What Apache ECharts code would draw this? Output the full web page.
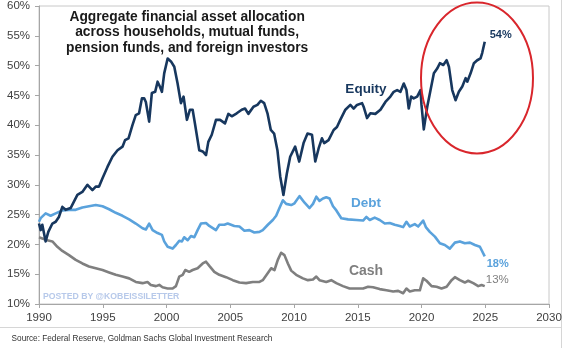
<!DOCTYPE html>
<html>
<head>
<meta charset="utf-8">
<script src="https://cdn.jsdelivr.net/npm/echarts@6/dist/echarts.min.js"></script>
<style>
  html, body { margin: 0; padding: 0; background: #fff; }
  #chart { width: 568px; height: 348px; }
</style>
</head>
<body>
<div id="chart"></div>
<script>
// Share of aggregate financial assets, [year, percent]
const equity = [
  [1990.0, 23.5], [1990.13, 22.4], [1990.26, 23.3], [1990.52, 20.5], [1990.73, 22.1],
  [1991.05, 23.5], [1991.31, 23.8], [1991.56, 24.6], [1991.83, 26.3], [1992.09, 25.8],
  [1992.48, 26.1], [1993.01, 28.3], [1993.40, 28.8], [1993.80, 30.0], [1994.19, 29.1],
  [1994.45, 29.7], [1994.71, 29.7], [1994.98, 31.1], [1995.37, 33.0], [1995.76, 34.7],
  [1996.16, 35.8], [1996.55, 36.4], [1996.75, 37.5], [1997.02, 37.8], [1997.33, 40.0],
  [1997.59, 41.7], [1997.85, 42.0], [1998.07, 44.5], [1998.25, 44.5], [1998.38, 43.9],
  [1998.64, 40.6], [1998.85, 45.4], [1999.11, 45.6], [1999.30, 47.3], [1999.48, 46.5],
  [1999.64, 45.6], [1999.82, 48.7], [2000.09, 51.2], [2000.35, 50.7], [2000.61, 49.8],
  [2000.87, 47.0], [2001.13, 43.7], [2001.34, 44.8], [2001.60, 40.9], [2001.84, 42.6],
  [2002.05, 42.6], [2002.23, 40.3], [2002.57, 35.8], [2002.84, 35.6], [2003.10, 35.0],
  [2003.28, 37.2], [2003.55, 38.4], [2003.88, 40.9], [2004.20, 40.9], [2004.59, 40.3],
  [2004.85, 41.9], [2005.12, 41.5], [2005.51, 42.0], [2005.90, 42.6], [2006.16, 42.8],
  [2006.42, 41.9], [2006.82, 43.1], [2007.13, 43.4], [2007.40, 44.1], [2007.66, 43.7],
  [2007.92, 42.0], [2008.18, 39.2], [2008.44, 38.6], [2008.70, 35.8], [2008.92, 31.4],
  [2009.17, 28.3], [2009.44, 31.9], [2009.70, 34.7], [2010.09, 36.4], [2010.41, 33.9],
  [2010.75, 37.0], [2011.06, 38.6], [2011.41, 38.4], [2011.67, 33.9], [2011.93, 36.1],
  [2012.19, 37.8], [2012.37, 37.0], [2012.71, 37.5], [2012.85, 37.5], [2013.11, 39.2],
  [2013.37, 39.7], [2013.63, 40.9], [2014.03, 42.6], [2014.42, 43.4], [2014.68, 42.8],
  [2014.94, 43.4], [2015.34, 43.7], [2015.46, 43.1], [2015.73, 41.2], [2015.99, 42.0],
  [2016.38, 41.9], [2016.78, 42.6], [2017.17, 43.9], [2017.56, 44.8], [2017.82, 45.6],
  [2018.09, 45.9], [2018.35, 45.6], [2018.61, 47.0], [2018.82, 45.9], [2019.00, 42.8],
  [2019.19, 44.8], [2019.39, 44.5], [2019.66, 44.8], [2019.92, 45.9], [2020.00, 43.4],
  [2020.18, 39.3], [2020.45, 43.1], [2020.71, 45.9], [2020.97, 48.7], [2021.23, 49.5],
  [2021.44, 50.4], [2021.71, 50.1], [2021.97, 50.9], [2022.15, 49.8], [2022.41, 45.9],
  [2022.67, 44.2], [2022.93, 45.6], [2023.20, 46.5], [2023.46, 47.9], [2023.59, 47.3],
  [2023.85, 48.7], [2024.11, 50.4], [2024.37, 50.9], [2024.63, 51.2], [2024.76, 52.1],
  [2024.96, 54.0]
];

const debt = [
  [1990.0, 23.8], [1990.13, 24.4], [1990.52, 25.2], [1990.91, 24.8], [1991.31, 25.2],
  [1991.83, 25.7], [1992.35, 25.8], [1992.88, 25.8], [1993.40, 26.2], [1993.92, 26.4],
  [1994.45, 26.6], [1994.98, 26.4], [1995.50, 25.9], [1996.02, 25.3], [1996.55, 24.8],
  [1997.07, 24.2], [1997.59, 23.5], [1998.12, 22.7], [1998.38, 22.5], [1998.64, 23.5],
  [1998.91, 22.4], [1999.30, 21.9], [1999.64, 21.6], [1999.82, 20.5], [2000.09, 19.6],
  [2000.48, 19.3], [2000.74, 19.9], [2001.00, 20.6], [2001.21, 20.5], [2001.39, 21.2],
  [2001.66, 20.7], [2001.92, 21.4], [2002.18, 21.2], [2002.44, 22.4], [2002.70, 23.5],
  [2003.10, 23.6], [2003.36, 23.1], [2003.88, 22.4], [2004.14, 23.3], [2004.54, 23.3],
  [2004.80, 23.5], [2005.32, 23.1], [2005.72, 23.0], [2006.11, 22.3], [2006.50, 22.4],
  [2006.89, 22.0], [2007.29, 22.1], [2007.55, 22.4], [2007.95, 23.3], [2008.34, 24.1],
  [2008.60, 24.8], [2008.86, 26.1], [2009.13, 27.4], [2009.39, 26.8], [2009.78, 26.6],
  [2010.04, 26.9], [2010.43, 28.1], [2010.83, 27.0], [2011.22, 26.1], [2011.49, 26.8],
  [2011.75, 28.0], [2012.00, 27.3], [2012.27, 27.7], [2012.53, 27.9], [2012.79, 27.7],
  [2013.06, 26.4], [2013.32, 25.7], [2013.71, 24.4], [2014.24, 24.2], [2014.89, 24.1],
  [2015.42, 24.0], [2015.68, 24.6], [2015.94, 24.1], [2016.33, 24.5], [2016.72, 24.1],
  [2017.12, 23.5], [2017.51, 23.6], [2017.90, 23.3], [2018.29, 23.1], [2018.56, 22.9],
  [2018.82, 23.8], [2019.08, 23.0], [2019.47, 23.4], [2019.74, 23.0], [2020.13, 24.0],
  [2020.34, 22.9], [2020.65, 22.1], [2021.05, 21.3], [2021.44, 20.2], [2021.83, 19.9],
  [2022.22, 19.3], [2022.62, 20.3], [2023.01, 20.5], [2023.40, 20.2], [2023.80, 20.3],
  [2024.19, 19.9], [2024.58, 19.6], [2024.96, 18.0]
];

const cash = [
  [1990.0, 21.2], [1990.26, 21.0], [1990.65, 20.7], [1991.05, 20.5], [1991.44, 19.6],
  [1991.83, 18.9], [1992.35, 18.2], [1992.88, 17.4], [1993.40, 16.8], [1993.92, 16.3],
  [1994.45, 16.0], [1994.98, 15.7], [1995.50, 15.3], [1996.02, 14.9], [1996.55, 14.6],
  [1997.07, 14.3], [1997.59, 13.7], [1998.12, 13.5], [1998.51, 13.7], [1998.77, 13.2],
  [1999.17, 13.0], [1999.43, 13.2], [1999.69, 12.8], [2000.09, 12.6], [2000.48, 12.6],
  [2000.74, 13.0], [2001.00, 14.6], [2001.27, 14.9], [2001.47, 15.7], [2001.78, 15.4],
  [2002.05, 15.7], [2002.44, 16.0], [2002.84, 16.8], [2003.10, 17.1], [2003.36, 16.4],
  [2003.75, 15.4], [2004.14, 14.9], [2004.67, 14.5], [2005.20, 14.0], [2005.72, 13.6],
  [2006.24, 13.5], [2006.77, 13.7], [2007.29, 13.7], [2007.55, 14.0], [2007.95, 15.2],
  [2008.21, 16.0], [2008.47, 15.7], [2008.73, 17.4], [2008.99, 18.6], [2009.25, 18.2],
  [2009.52, 16.8], [2009.78, 15.6], [2010.17, 14.9], [2010.70, 14.3], [2011.09, 14.0],
  [2011.49, 14.1], [2011.75, 14.6], [2012.00, 14.0], [2012.53, 13.7], [2012.92, 14.0],
  [2013.32, 13.5], [2013.84, 13.0], [2014.36, 12.6], [2014.89, 12.6], [2015.42, 12.6],
  [2015.81, 12.9], [2016.20, 12.8], [2016.72, 12.5], [2017.25, 12.3], [2017.78, 12.1],
  [2018.17, 12.2], [2018.56, 11.8], [2018.82, 12.6], [2019.08, 12.1], [2019.47, 12.3],
  [2019.87, 12.3], [2020.13, 14.3], [2020.39, 13.9], [2020.79, 13.0], [2021.18, 12.9],
  [2021.57, 12.6], [2021.97, 12.9], [2022.36, 14.0], [2022.62, 14.5], [2023.01, 14.0],
  [2023.40, 13.6], [2023.66, 13.9], [2024.06, 13.5], [2024.45, 13.0], [2024.71, 13.2],
  [2024.96, 13.0]
];

const titleLines = [
  'Aggregate financial asset allocation',
  'across households, mutual funds,',
  'pension funds, and foreign investors'
];
const seriesNames = ['Equity', 'Debt', 'Cash'];
const colors = ['#17375e', '#5aa2dc', '#7f7f7f'];
const yTicks = { min: 10, max: 60, step: 5 };
const xTicks = { min: 1990, max: 2030, step: 5 };
const sourceText = 'Source: Federal Reserve, Goldman Sachs Global Investment Research';
const watermark = 'POSTED BY @KOBEISSILETTER';

const chart = echarts.init(document.getElementById('chart'), null, { renderer: 'canvas' });
const FONT = '"Liberation Sans", Arial, sans-serif';

function lineSeries(name, data, color, labelOpts) {
  return {
    name, type: 'line', data, showSymbol: false, symbol: 'none',
    lineStyle: { color, width: 2.6, join: 'round' },
    z: name === 'Equity' ? 4 : 3,
    endLabel: Object.assign({
      show: true,
      formatter: p => Math.round(p.value[1]) + '%',
      color, fontFamily: FONT, fontSize: 11, fontWeight: 'bold'
    }, labelOpts)
  };
}

chart.setOption({
  backgroundColor: '#ffffff',
  animation: false,
  grid: { left: 39, right: 19, top: 6, bottom: 44, show: true, borderColor: '#c8c8c8', borderWidth: 1 },
  xAxis: {
    type: 'value', min: xTicks.min, max: xTicks.max, interval: xTicks.step,
    axisLine: { show: true, lineStyle: { color: '#a6a6a6' } },
    axisTick: { show: true, length: 4, lineStyle: { color: '#a6a6a6' } },
    axisLabel: { color: '#404040', fontFamily: FONT, fontSize: 11.5, margin: 8, formatter: v => String(v) },
    splitLine: { show: false }
  },
  yAxis: {
    type: 'value', min: yTicks.min, max: yTicks.max, interval: yTicks.step,
    axisLine: { show: true, lineStyle: { color: '#a6a6a6' } },
    axisTick: { show: true, length: 4, lineStyle: { color: '#a6a6a6' } },
    axisLabel: { color: '#404040', fontFamily: FONT, fontSize: 11.5, margin: 9, formatter: '{value}%' },
    splitLine: { show: false }
  },
  series: [
    lineSeries(seriesNames[2], cash, colors[2], { fontWeight: 'normal', fontSize: 11.5, offset: [-7, -6] }),
    lineSeries(seriesNames[1], debt, colors[1], { fontSize: 11, offset: [-6, 8] }),
    lineSeries(seriesNames[0], equity, colors[0], { offset: [-3, -7] })
  ],
  graphic: [
    {
      type: 'text', left: 186 - 120, top: 9,
      style: {
        text: titleLines.join('\n'), x: 120, textAlign: 'center',
        font: 'bold 13.8px ' + FONT, fill: '#1a1a1a', lineHeight: 15.6
      }
    },
    { type: 'text', x: 366, y: 89, style: { text: seriesNames[0], textAlign: 'center', textVerticalAlign: 'middle', font: 'bold 13.5px ' + FONT, fill: colors[0] } },
    { type: 'text', x: 366, y: 203, style: { text: seriesNames[1], textAlign: 'center', textVerticalAlign: 'middle', font: 'bold 13.5px ' + FONT, fill: colors[1] } },
    { type: 'text', x: 366, y: 271, style: { text: seriesNames[2], textAlign: 'center', textVerticalAlign: 'middle', font: 'bold 14px ' + FONT, fill: colors[2] } },
    { type: 'text', x: 43, y: 297, style: { text: watermark, textVerticalAlign: 'middle', font: 'bold 8.7px ' + FONT, fill: '#b7c9ea' } },
    { type: 'ellipse', shape: { cx: 477, cy: 78, rx: 56, ry: 75.5 }, style: { fill: 'none', stroke: '#d9262c', lineWidth: 2 }, z: 10 },
    { type: 'line', shape: { x1: 0, y1: 327.5, x2: 562, y2: 327.5 }, style: { stroke: '#d6d6d6', lineWidth: 1 } },
    { type: 'line', shape: { x1: 561.5, y1: 0, x2: 561.5, y2: 348 }, style: { stroke: '#d6d6d6', lineWidth: 1 } },
    { type: 'text', x: 10, y: 338, scaleX: 0.84, originX: 10, originY: 338, style: { text: sourceText, textVerticalAlign: 'middle', font: '9.8px ' + FONT, fill: '#333333' } }
  ]
});
</script>
</body>
</html>
